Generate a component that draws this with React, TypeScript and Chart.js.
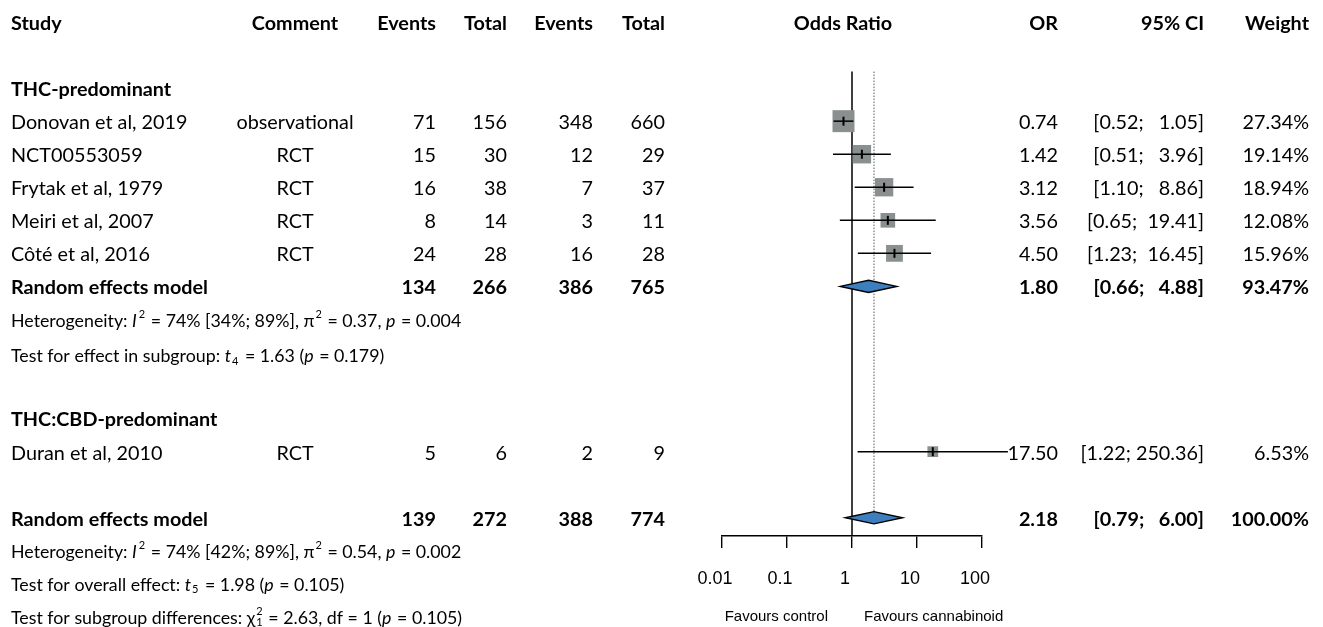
import { useEffect, useRef } from 'react';
import { Chart, registerables } from 'chart.js';

Chart.register(...registerables);

// ---------- data ----------
const studyNames = ['Donovan et al, 2019', 'NCT00553059', 'Frytak et al, 1979', 'Meiri et al, 2007', 'Côté et al, 2016', 'Duran et al, 2010'];
const studyComments = ['observational', 'RCT', 'RCT', 'RCT', 'RCT', 'RCT'];
const eventsCanna = [71, 15, 16, 8, 24, 5];
const totalCanna = [156, 30, 38, 14, 28, 6];
const eventsCtrl = [348, 12, 7, 3, 16, 2];
const totalCtrl = [660, 29, 37, 11, 28, 9];
const studyOR = [0.74, 1.42, 3.12, 3.56, 4.5, 17.5];
const studyLo = [0.52, 0.51, 1.1, 0.65, 1.23, 1.22];
const studyHi = [1.05, 3.96, 8.86, 19.41, 16.45, 250.36];
const studyWeight = [27.34, 19.14, 18.94, 12.08, 15.96, 6.53];
const studyRows = [3, 4, 5, 6, 7, 13];

const pooledLabels = ['Random effects model', 'Random effects model'];
const pooledEventsCanna = [134, 139];
const pooledTotalCanna = [266, 272];
const pooledEventsCtrl = [386, 388];
const pooledTotalCtrl = [765, 774];
const pooledOR = [1.8, 2.18];
const pooledLo = [0.66, 0.79];
const pooledHi = [4.88, 6.0];
const pooledWeight = [93.47, 100.0];
const pooledRows = [8, 15];

const subgroupLabels = ['THC-predominant', 'THC:CBD-predominant'];
const subgroupRows = [2, 12];

const headerLabels = ['Study', 'Comment', 'Events', 'Total', 'Events', 'Total', 'Odds Ratio', 'OR', '95% CI', 'Weight'];
const tickValues = [0.01, 0.1, 1, 10, 100];
const tickLabels = ['0.01', '0.1', '1', '10', '100'];
const favourLabels = ['Favours control', 'Favours cannabinoid'];

type Seg = { t: string; s?: 'i' | 'sup' | 'sub' | 'supsub'; t2?: string };
const statLines: { row: number; segs: Seg[] }[] = [
  { row: 9, segs: [{ t: 'Heterogeneity: ' }, { t: 'I', s: 'i' }, { t: '2', s: 'sup' }, { t: ' = 74% [34%; 89%], ' }, { t: 'π' }, { t: '2', s: 'sup' }, { t: ' = 0.37, ' }, { t: 'p', s: 'i' }, { t: ' = 0.004' }] },
  { row: 10.08, segs: [{ t: 'Test for effect in subgroup: ' }, { t: 't', s: 'i' }, { t: '4', s: 'sub' }, { t: ' = 1.63 (' }, { t: 'p', s: 'i' }, { t: ' = 0.179)' }] },
  { row: 16, segs: [{ t: 'Heterogeneity: ' }, { t: 'I', s: 'i' }, { t: '2', s: 'sup' }, { t: ' = 74% [42%; 89%], ' }, { t: 'π' }, { t: '2', s: 'sup' }, { t: ' = 0.54, ' }, { t: 'p', s: 'i' }, { t: ' = 0.002' }] },
  { row: 17, segs: [{ t: 'Test for overall effect: ' }, { t: 't', s: 'i' }, { t: '5', s: 'sub' }, { t: ' = 1.98 (' }, { t: 'p', s: 'i' }, { t: ' = 0.105)' }] },
  { row: 18, segs: [{ t: 'Test for subgroup differences: ' }, { t: 'χ' }, { t: '2', s: 'supsub', t2: '1' }, { t: ' = 2.63, df = 1 (' }, { t: 'p', s: 'i' }, { t: ' = 0.105)' }] },
];

// ---------- layout / style ----------
const W = 1323;
const H = 627;
const FONT = 'Lato, "Open Sans", sans-serif';
const AX_FONT = '"Liberation Sans", Arial, sans-serif';
const TS = 19.8; // table font size
const STAT_TS = 17.8;
const TEXT_DY = 1.5;
const COLS = {
  study: 11,
  comment: 295,
  ev1: 436,
  tot1: 507,
  ev2: 593,
  tot2: 665,
  odds: 843,
  or: 1058,
  ci: 1204,
  weight: 1309,
};
const Y_MIN = -0.666;
const Y_MAX = 15.552;
const REF_TOP = 1.5;
const DIAMOND_HALF = 0.185;
const SQUARE_MAX_SIDE = 22;
const SQUARE_COLOR = '#8a908f';
const DIAMOND_COLOR = '#3d7ebf';

const fmt2 = (v: number) => v.toFixed(2);
const fmtCI = (lo: number, hi: number) => `[${fmt2(lo)}; ${fmt2(hi).padStart(6, ' ')}]`;

function drawRich(ctx: CanvasRenderingContext2D, segs: Seg[], x: number, y: number, size: number) {
  let cx = x;
  for (const seg of segs) {
    if (!seg.s) {
      ctx.font = `${size}px ${FONT}`;
      ctx.fillText(seg.t, cx, y);
      cx += ctx.measureText(seg.t).width;
    } else if (seg.s === 'i') {
      ctx.font = `italic ${size}px ${FONT}`;
      ctx.fillText(seg.t, cx, y);
      cx += ctx.measureText(seg.t).width + 1;
    } else if (seg.s === 'sup') {
      ctx.font = `${size * 0.62}px ${FONT}`;
      ctx.fillText(seg.t, cx + 1, y - size * 0.38);
      cx += ctx.measureText(seg.t).width + 2;
    } else if (seg.s === 'sub') {
      ctx.font = `${size * 0.62}px ${FONT}`;
      ctx.fillText(seg.t, cx, y + size * 0.25);
      cx += ctx.measureText(seg.t).width + 2;
    } else {
      ctx.font = `${size * 0.62}px ${FONT}`;
      ctx.fillText(seg.t, cx + 1, y - size * 0.38);
      ctx.fillText(seg.t2 || '', cx + 1, y + size * 0.25);
      cx += Math.max(ctx.measureText(seg.t).width, ctx.measureText(seg.t2 || '').width) + 2;
    }
  }
}

const tablePlugin = {
  id: 'forestTable',
  afterDatasetsDraw(chart: any) {
    const ctx: CanvasRenderingContext2D = chart.ctx;
    const xs = chart.scales.x;
    const ys = chart.scales.y;
    const py = (r: number) => ys.getPixelForValue(r);
    ctx.save();
    ctx.fillStyle = '#000';
    ctx.textBaseline = 'middle';

    const txt = (s: string, x: number, r: number, align: CanvasTextAlign, bold: boolean) => {
      ctx.font = `${bold ? 'bold ' : ''}${TS}px ${FONT}`;
      ctx.textAlign = align;
      ctx.fillText(s, x, py(r) + TEXT_DY);
    };

    // diamonds
    pooledOR.forEach((est, i) => {
      const r = pooledRows[i];
      const yc = py(r);
      const yt = py(r - DIAMOND_HALF);
      const yb = py(r + DIAMOND_HALF);
      ctx.beginPath();
      ctx.moveTo(xs.getPixelForValue(pooledLo[i]), yc);
      ctx.lineTo(xs.getPixelForValue(est), yt);
      ctx.lineTo(xs.getPixelForValue(pooledHi[i]), yc);
      ctx.lineTo(xs.getPixelForValue(est), yb);
      ctx.closePath();
      ctx.fillStyle = DIAMOND_COLOR;
      ctx.fill();
      ctx.lineWidth = 1.4;
      ctx.strokeStyle = '#000';
      ctx.stroke();
    });
    ctx.fillStyle = '#000';

    // header
    const hAlign: CanvasTextAlign[] = ['left', 'center', 'right', 'right', 'right', 'right', 'center', 'right', 'right', 'right'];
    const hX = [COLS.study, COLS.comment, COLS.ev1, COLS.tot1, COLS.ev2, COLS.tot2, COLS.odds, COLS.or, COLS.ci, COLS.weight];
    headerLabels.forEach((h, i) => txt(h, hX[i], 0, hAlign[i], true));

    subgroupLabels.forEach((s, i) => txt(s, COLS.study, subgroupRows[i], 'left', true));

    studyNames.forEach((n, i) => {
      const r = studyRows[i];
      txt(n, COLS.study, r, 'left', false);
      txt(studyComments[i], COLS.comment, r, 'center', false);
      txt(String(eventsCanna[i]), COLS.ev1, r, 'right', false);
      txt(String(totalCanna[i]), COLS.tot1, r, 'right', false);
      txt(String(eventsCtrl[i]), COLS.ev2, r, 'right', false);
      txt(String(totalCtrl[i]), COLS.tot2, r, 'right', false);
      txt(fmt2(studyOR[i]), COLS.or, r, 'right', false);
      txt(fmtCI(studyLo[i], studyHi[i]), COLS.ci, r, 'right', false);
      txt(`${fmt2(studyWeight[i])}%`, COLS.weight, r, 'right', false);
    });

    pooledLabels.forEach((n, i) => {
      const r = pooledRows[i];
      txt(n, COLS.study, r, 'left', true);
      txt(String(pooledEventsCanna[i]), COLS.ev1, r, 'right', true);
      txt(String(pooledTotalCanna[i]), COLS.tot1, r, 'right', true);
      txt(String(pooledEventsCtrl[i]), COLS.ev2, r, 'right', true);
      txt(String(pooledTotalCtrl[i]), COLS.tot2, r, 'right', true);
      txt(fmt2(pooledOR[i]), COLS.or, r, 'right', true);
      txt(fmtCI(pooledLo[i], pooledHi[i]), COLS.ci, r, 'right', true);
      txt(`${fmt2(pooledWeight[i])}%`, COLS.weight, r, 'right', true);
    });

    ctx.textAlign = 'left';
    statLines.forEach((l) => drawRich(ctx, l.segs, COLS.study, py(l.row) + TEXT_DY, STAT_TS));

    // favours labels
    ctx.font = `15px ${AX_FONT}`;
    const fy = py(18);
    ctx.textAlign = 'right';
    ctx.fillText(favourLabels[0], xs.getPixelForValue(1) - 24, fy);
    ctx.textAlign = 'left';
    ctx.fillText(favourLabels[1], xs.getPixelForValue(1) + 12, fy);
    ctx.restore();
  },
};

export default function App() {
  const ref = useRef<HTMLCanvasElement | null>(null);
  useEffect(() => {
    if (!ref.current) return;
    const sqRadius = studyWeight.map((w) => (SQUARE_MAX_SIDE * Math.sqrt(w / Math.max(...studyWeight))) / (2 * Math.SQRT1_2));
    const ciSets = studyOR.map((_, i) => ({
      type: 'line' as const,
      data: [
        { x: studyLo[i], y: studyRows[i] },
        { x: studyHi[i], y: studyRows[i] },
      ],
      borderColor: '#000',
      borderWidth: 1.5,
      pointRadius: 0,
      clip: false as any,
      order: 3,
    }));
    const chart = new Chart(ref.current, {
      type: 'scatter',
      data: {
        datasets: [
          {
            type: 'line',
            data: [
              { x: 1, y: REF_TOP },
              { x: 1, y: Y_MAX },
            ],
            borderColor: '#000',
            borderWidth: 1.5,
            pointRadius: 0,
            clip: false as any,
            order: 10,
          },
          {
            type: 'line',
            data: [
              { x: pooledOR[1], y: REF_TOP },
              { x: pooledOR[1], y: pooledRows[1] - DIAMOND_HALF },
            ],
            borderColor: '#555',
            borderWidth: 1,
            borderDash: [1.5, 1.5],
            pointRadius: 0,
            clip: false as any,
            order: 9,
          },
          {
            type: 'scatter',
            data: studyOR.map((v, i) => ({ x: v, y: studyRows[i] })),
            pointStyle: 'rect',
            pointRadius: sqRadius,
            backgroundColor: SQUARE_COLOR,
            borderColor: SQUARE_COLOR,
            borderWidth: 0,
            clip: false as any,
            order: 5,
          },
          ...ciSets,
          {
            type: 'scatter',
            data: studyOR.map((v, i) => ({ x: v, y: studyRows[i] })),
            pointStyle: 'line',
            rotation: 90,
            pointRadius: 4.5,
            borderColor: '#000',
            borderWidth: 2,
            clip: false as any,
            order: 1,
          },
        ] as any,
      },
      options: {
        animation: false,
        responsive: false,
        events: [],
        layout: { autoPadding: false, padding: { left: 722, right: W - 982, top: 0, bottom: 0 } },
        plugins: { legend: { display: false }, tooltip: { enabled: false } },
        scales: {
          x: {
            type: 'logarithmic',
            min: 0.01,
            max: 100,
            position: 'bottom',
            afterBuildTicks: (s: any) => {
              s.ticks = tickValues.map((v) => ({ value: v }));
            },
            afterFit: (s: any) => {
              s.height = H - 536;
            },
            ticks: {
              autoSkip: false,
              maxRotation: 0,
              padding: 20,
              labelOffset: -7,
              color: '#000',
              font: { family: AX_FONT, size: 18 },
              callback: (v: any) => {
                const i = tickValues.indexOf(Number(v));
                return i >= 0 ? tickLabels[i] : '';
              },
            },
            grid: { drawOnChartArea: false, drawTicks: true, tickLength: 12, color: '#000', lineWidth: 1.4 },
            border: { display: true, color: '#000', width: 1.4 },
          },
          y: {
            type: 'linear',
            min: Y_MIN,
            max: Y_MAX,
            reverse: true,
            display: false,
          },
        },
      },
      plugins: [tablePlugin],
    });
    return () => chart.destroy();
  }, []);
  return (
    <div style={{ position: 'absolute', left: 0, top: 0, width: W, height: H, background: '#fff' }}>
      <canvas ref={ref} width={W} height={H} style={{ width: W, height: H, display: 'block' }} />
    </div>
  );
}
